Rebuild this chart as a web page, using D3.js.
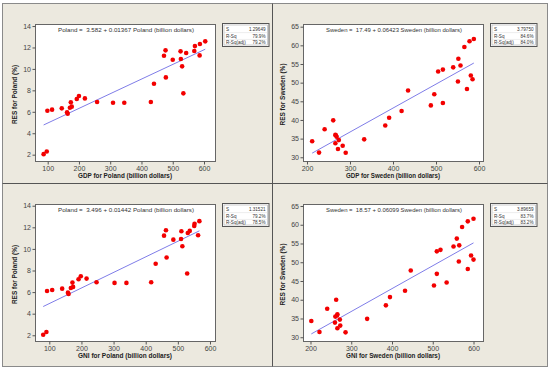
<!DOCTYPE html>
<html>
<head>
<meta charset="utf-8">
<script src="https://cdn.jsdelivr.net/npm/d3@7"></script>
<style>
html,body{margin:0;padding:0;background:#fff;}
svg{display:block;font-family:"Liberation Sans","DejaVu Sans",sans-serif;}
</style>
</head>
<body>
<svg id="chart" width="550" height="370"></svg>
<script>
// ---------- data ----------
const polandGdp = [87,97,99,114,145,162,164,171,177,174,193,200,219,258,309,345,430,440,472,477,478,500,525,526,530,534,543,569,571,586,587,604];
const polandRes = [2.05,2.3,6.1,6.2,6.32,5.95,5.82,6.38,6.48,6.88,7.19,7.47,7.25,6.91,6.85,6.85,6.91,8.62,11.23,11.73,9.21,10.86,11.64,10.92,10.24,7.72,11.48,11.67,12.13,11.26,12.32,12.57];
const polandGni = [81,91,93,109,140,158,160,167,174,172,191,198,216,247,303,340,417,431,457,463,465,486,511,510,514,529,531,537,551,563,552,567];

const swedenGdp = [212,228,241,261,266,267,266,269,274,272,283,290,333,382,391,420,435,488,496,505,516,516,540,552,551,557,566,572,578,581,585,588];
const swedenResGdp = [34.3,31.25,37.5,39.9,36.0,35.9,33.75,35.5,34.6,32.2,33.1,31.2,34.8,38.5,40.6,42.4,47.9,43.9,46.9,53.0,53.5,44.55,54.1,56.4,50.3,54.6,59.55,48.3,61.1,51.9,50.9,61.7];
const swedenGni = [202,222,241,263,261,265,266,260,272,266,273,286,339,385,395,432,446,503,510,510,519,534,551,559,564,565,572,586,586,594,600,600];
const swedenResGni = [34.35,31.4,37.6,40.0,35.5,35.8,36.1,33.9,34.7,32.4,33.1,31.3,34.9,38.5,40.7,42.4,47.8,43.8,46.9,52.9,53.3,44.6,54.2,56.3,50.2,54.5,59.4,48.2,60.9,51.8,50.7,61.6];

const panelNames = ["Poland","Sweden","Poland","Sweden"];
const xVarNames = ["GDP","GDP","GNI","GNI"];
const intercepts = ["3.582","17.49","3.496","18.57"];
const slopes = ["0.01367","0.06423","0.01442","0.06099"];
const statS = ["1.29649","3.79750","1.31521","3.89659"];
const statRSq = ["79.9%","84.6%","79.2%","83.7%"];
const statRSqAdj = ["79.2%","84.0%","78.5%","83.2%"];
const statLabels = ["S","R-Sq","R-Sq(adj)"];

const polandXTicks = [100,200,300,400,500,600];
const swedenXTicks = [200,300,400,500,600];
const polandYTicks = [2,4,6,8,10,12,14];
const swedenYTicks = [30,35,40,45,50,55,60,65];

// ---------- layout ----------
const svg = d3.select("#chart");
const bg = "#ECE9DF";
svg.append("rect").attr("x",0).attr("y",0).attr("width",550).attr("height",370).attr("fill","#fff");
svg.append("rect").attr("x",2.5).attr("y",3.5).attr("width",545).attr("height",363)
  .attr("fill",bg).attr("stroke","#8a8a8a").attr("stroke-width",1);
svg.append("line").attr("x1",272.5).attr("x2",272.5).attr("y1",3.5).attr("y2",366.5).attr("stroke","#555").attr("stroke-width",1);
svg.append("line").attr("x1",2.5).attr("x2",547.5).attr("y1",183.5).attr("y2",183.5).attr("stroke","#555").attr("stroke-width",1);

const panels = [
  {xs: polandGdp, ys: polandRes, fx:35, fy:24, xd:[59.4,635.2], yd:[1.41,14.19], xt:polandXTicks, yt:polandYTicks},
  {xs: swedenGdp, ys: swedenResGdp, fx:303, fy:24, xd:[190.7,609.3], yd:[29.0,65.72], xt:swedenXTicks, yt:swedenYTicks},
  {xs: polandGni, ys: polandRes, fx:35, fy:204, xd:[55.5,615.6], yd:[1.47,14.16], xt:polandXTicks, yt:polandYTicks},
  {xs: swedenGni, ys: swedenResGni, fx:303, fy:204, xd:[181.6,623.3], yd:[29.0,65.53], xt:swedenXTicks, yt:swedenYTicks}
];
const FW = 180, FH = 137;

panels.forEach((p,i)=>{
  const g = svg.append("g");
  const x = d3.scaleLinear().domain(p.xd).range([p.fx, p.fx+FW]);
  const y = d3.scaleLinear().domain(p.yd).range([p.fy+FH, p.fy]);

  g.append("rect").attr("x",p.fx+0.5).attr("y",p.fy+0.5).attr("width",FW).attr("height",FH)
    .attr("fill","#fff").attr("stroke","#666").attr("stroke-width",1);

  // axes
  const xa = g.append("g").attr("transform",`translate(0,${p.fy+FH+0.5})`)
    .call(d3.axisBottom(x).tickValues(p.xt).tickSize(3).tickSizeOuter(0).tickPadding(1.5));
  const ya = g.append("g").attr("transform",`translate(${p.fx+0.5},0)`)
    .call(d3.axisLeft(y).tickValues(p.yt).tickSize(3).tickSizeOuter(0).tickPadding(1.5));
  [xa,ya].forEach(a=>{
    a.select(".domain").remove();
    a.selectAll(".tick line").attr("stroke","#555");
    a.selectAll(".tick text").attr("fill","#444").style("font-size","7px").style("font-family","'Liberation Sans','DejaVu Sans',sans-serif");
  });

  // regression line
  const b0 = +intercepts[i], b1 = +slopes[i];
  const xmin = d3.min(p.xs), xmax = d3.max(p.xs);
  g.append("line").attr("x1",x(xmin)).attr("y1",y(b0+b1*xmin)).attr("x2",x(xmax)).attr("y2",y(b0+b1*xmax))
    .attr("stroke","#7F7DE8").attr("stroke-width",1);

  // points
  g.selectAll("circle.pt").data(p.xs.map((v,k)=>[v,p.ys[k]])).enter().append("circle")
    .attr("cx",d=>x(d[0])).attr("cy",d=>y(d[1])).attr("r",2.3).attr("fill","#F20000");

  // equation title
  g.append("text").attr("x",p.fx+FW/2+1).attr("y",p.fy+7.5).attr("text-anchor","middle")
    .attr("fill","#333").style("font-size","6px").style("white-space","pre")
    .attr("textLength",136).attr("lengthAdjust","spacingAndGlyphs")
    .text(`${panelNames[i]} =  ${intercepts[i]} + ${slopes[i]} ${panelNames[i]} (billion dollars)`);

  // axis labels
  g.append("text").attr("x",p.fx+FW/2).attr("y",p.fy+FH+17).attr("text-anchor","middle")
    .attr("fill","#222").style("font-size","6.5px").style("font-weight","bold")
    .attr("textLength",94).attr("lengthAdjust","spacingAndGlyphs")
    .text(`${xVarNames[i]} for ${panelNames[i]} (billion dollars)`);
  g.append("text").attr("transform",`translate(${p.fx-18},${p.fy+FH/2+2}) rotate(-90)`).attr("text-anchor","middle")
    .attr("fill","#222").style("font-size","6.5px").style("font-weight","bold")
    .text(`RES for ${panelNames[i]} (%)`);

  // stats box
  const bx = p.fx+FW+7, by = p.fy-1, bw = 46.5, bh = 23;
  g.append("rect").attr("x",bx+0.5).attr("y",by+0.5).attr("width",bw).attr("height",bh)
    .attr("fill","#fff").attr("stroke","#555").attr("stroke-width",1);
  g.append("rect").attr("x",bx+2).attr("y",by+2).attr("width",bw-3).attr("height",bh-3)
    .attr("fill","none").attr("stroke","#aaa").attr("stroke-width",0.6);
  const vals = [statS[i],statRSq[i],statRSqAdj[i]];
  statLabels.forEach((lab,k)=>{
    const ty = by+7.8+k*6.8;
    g.append("text").attr("x",bx+4).attr("y",ty).attr("fill","#333").style("font-size","4.6px").text(lab);
    g.append("text").attr("x",bx+bw-3).attr("y",ty).attr("text-anchor","end").attr("fill","#333").style("font-size","4.6px").text(vals[k]);
    if(k<2) g.append("line").attr("x1",bx+2).attr("x2",bx+bw-1).attr("y1",by+9.6+k*6.8).attr("y2",by+9.6+k*6.8)
      .attr("stroke","#ddd").attr("stroke-width",0.5);
  });
});
</script>
</body>
</html>
